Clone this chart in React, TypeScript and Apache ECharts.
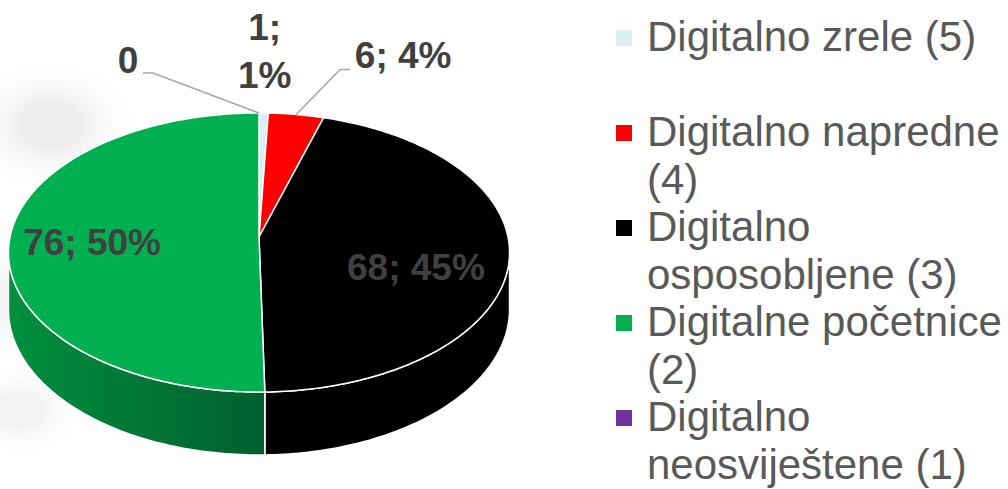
import React, { useEffect, useRef } from "react";
import * as echarts from "echarts";

// ---- data ----
const categories = [
  "Digitalno zrele (5)",
  "Digitalno napredne (4)",
  "Digitalno osposobljene (3)",
  "Digitalne početnice (2)",
  "Digitalno neosviještene (1)",
];
const legendLabels = [
  "Digitalno zrele (5)",
  "Digitalno napredne\n(4)",
  "Digitalno\nosposobljene (3)",
  "Digitalne početnice\n(2)",
  "Digitalno\nneosviještene (1)",
];
const values = [1, 6, 68, 76, 0];

// ---- styles ----
const colors = ["#DAEEF3", "#FF0000", "#000000", "#00B050", "#7030A0"];
const sideColors = [
  ["#c5dbe0", "#aec4c9"],
  ["#d80000", "#b00000"],
  ["#000000", "#000000"],
  ["#008f3f", "#005f2d"],
  ["#5e2788", "#4a1f6b"],
];
// label layout: at radius r on the mid-angle + (dx,dy)
const labelLayout: any[] = [
  { r: 1, dx: 1, dy: -61, wrap: true },
  { r: 1, dx: 107, dy: -59, leader: [[-63, 14], [-53, 14]] },
  { r: 0.63, dx: 0, dy: 19 },
  { r: 0.67, dx: 0, dy: 5 },
  { r: 1, dx: -131, dy: -52, leader: [[25, 12], [15, 12]] },
];

const total = values.reduce((a, b) => a + b, 0);
const cumStart = values.map((_, i) => values.slice(0, i).reduce((a, b) => a + b, 0));

// ---- 3D projection ----
const CX = 259, CY = 237, RX = 249, RY = 137.8, K = 0.111, DEPTH = 56;
const PHI_S = Math.acos(-K);
const TAU = Math.PI * 2;

function proj(phi: number, r: number, h: number): number[] {
  const x = r * Math.sin(phi);
  const z = -r * Math.cos(phi);
  const w = 1 - K * z;
  return [CX + (RX * x) / w, CY + (RY * z + DEPTH * h) / w];
}
function arcPts(a0: number, a1: number, h: number): number[][] {
  const n = Math.max(2, Math.ceil(Math.abs(a1 - a0) / (Math.PI / 180)));
  const pts: number[][] = [];
  for (let j = 0; j <= n; j++) pts.push(proj(a0 + ((a1 - a0) * j) / n, 1, h));
  return pts;
}

const labelFont = 'bold 37px "Liberation Sans", Arial, sans-serif';
const legendFont = '42px "Liberation Sans", Arial, sans-serif';

function softBlob(cx: number, cy: number, rx: number, ry: number, color: string) {
  return {
    type: "ellipse",
    shape: { cx, cy, rx, ry },
    style: {
      fill: new echarts.graphic.RadialGradient(0.5, 0.5, 0.5, [
        { offset: 0, color },
        { offset: 0.3, color },
        { offset: 1, color: "rgba(255,255,255,0)" },
      ]),
    },
    z: -10,
  };
}

export default function App() {
  const ref = useRef<HTMLDivElement>(null);
  useEffect(() => {
    document.body.style.margin = "0";
    const chart = echarts.init(ref.current!, null, { renderer: "svg" });
    const seriesData = values.map((v, i) => ({ name: categories[i], value: [v, cumStart[i], i] }));

    const renderSide = (params: any, api: any) => {
      const v = api.value(0);
      const c = api.value(1);
      const i = api.value(2);
      const a0 = (c / total) * TAU;
      const a1 = ((c + v) / total) * TAU;
      const s0 = Math.max(a0, PHI_S);
      const s1 = Math.min(a1, TAU - PHI_S);
      if (v <= 0 || s1 <= s0) return { type: "group", children: [] };
      const pts = arcPts(s0, s1, 0).concat(arcPts(s1, s0, 1));
      return {
        type: "polygon",
        shape: { points: pts },
        style: {
          fill: new echarts.graphic.LinearGradient(0, 0, 1, 0, [
            { offset: 0, color: sideColors[i][0] },
            { offset: 1, color: sideColors[i][1] },
          ]),
          stroke: "#ffffff",
          lineWidth: 1.5,
          lineJoin: "round",
        },
      };
    };

    const renderTop = (params: any, api: any) => {
      const v = api.value(0);
      const c = api.value(1);
      const i = api.value(2);
      const a0 = (c / total) * TAU;
      const a1 = ((c + v) / total) * TAU;
      const children: any[] = [];
      if (v > 0) {
        const pts = [[CX, CY]].concat(arcPts(a0, a1, 0));
        children.push({
          type: "polygon",
          shape: { points: pts },
          style: { fill: colors[i], stroke: "#ffffff", lineWidth: 1.5, lineJoin: "round" },
        });
      }
      const lay = labelLayout[i];
      const mid = (a0 + a1) / 2;
      const anchor = proj(mid, lay.r, 0);
      const lx = anchor[0] + lay.dx;
      const ly = anchor[1] + lay.dy;
      const pct = Math.round((v / total) * 100);
      const txt = v === 0 ? `${v}` : lay.wrap ? `${v};\n${pct}%` : `${v}; ${pct}%`;
      if (lay.leader) {
        const edge = proj(mid, 1, 0);
        const pts = [edge].concat(lay.leader.map((p: number[]) => [lx + p[0], ly + p[1]]));
        children.push({
          type: "polyline",
          shape: { points: pts },
          style: { stroke: "#a6a6a6", lineWidth: 1.5, fill: "none" },
        });
      }
      children.push({
        type: "text",
        x: lx,
        y: ly,
        style: {
          text: txt,
          fill: "#404040",
          font: labelFont,
          align: "center",
          verticalAlign: "middle",
          lineHeight: 48,
        },
      });
      return { type: "group", children };
    };

    const graphics: any[] = [
      softBlob(50, 125, 95, 70, "#ededed"),
      softBlob(5, 300, 40, 70, "#f4f4f4"),
      softBlob(20, 410, 70, 50, "#f2f2f2"),
    ];
    legendLabels.forEach((lab, i) => {
      const top = 13 + i * 95;
      graphics.push({
        type: "rect",
        shape: { x: 616, y: top + 17, width: 16, height: 16 },
        style: { fill: colors[i] },
        z: 10,
      });
      graphics.push({
        type: "text",
        x: 647,
        y: top,
        style: {
          text: lab,
          fill: "#595959",
          font: legendFont,
          verticalAlign: "top",
          lineHeight: 47.5,
        },
        z: 10,
      });
    });

    chart.setOption({
      animation: false,
      backgroundColor: "#ffffff",
      graphic: graphics,
      series: [
        { type: "custom", name: "side", coordinateSystem: "none", renderItem: renderSide, data: seriesData, z: 2 },
        { type: "custom", name: "top", coordinateSystem: "none", renderItem: renderTop, data: seriesData, z: 3 },
      ],
    });
    return () => chart.dispose();
  }, []);
  return <div ref={ref} style={{ width: 1008, height: 489 }} />;
}
